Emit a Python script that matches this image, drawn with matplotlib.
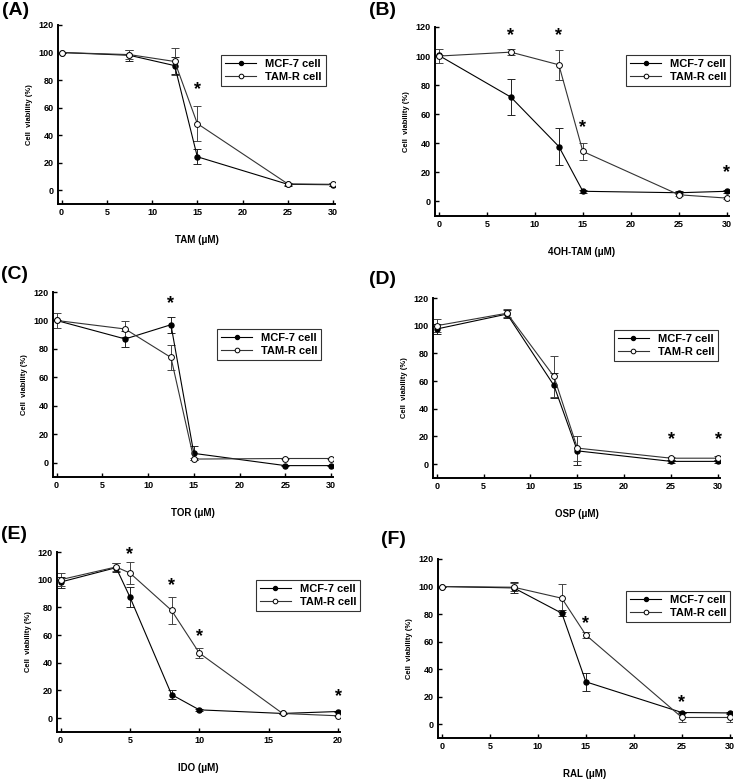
import numpy as np
import matplotlib.pyplot as plt

plt.rcParams['font.family'] = ['Liberation Sans', 'DejaVu Sans']
plt.rcParams['font.weight'] = 'bold'

W, H = 735, 780

# ---- data ----
dose_30 = [0, 7.5, 12.5, 15, 25, 30]
dose_ido = [0, 4, 5, 8, 10, 16, 20]

tam_mcf = [100, 98, 90.5, 24.3, 4.3, 4]
tam_mcf_err = [0, 4, 6, 5.5, 1, 1]
tam_res = [100, 98.5, 93.5, 48.4, 4.6, 4.3]
tam_res_err = [0, 3.5, 10, 12.5, 1, 1]
tam_star_x = [15]
tam_star_y = [73]

oht_mcf = [100.5, 71.8, 37.8, 7, 6, 7]
oht_mcf_err = [0, 12.5, 13, 1, 1, 1]
oht_res = [100, 102.7, 94, 34.4, 4.6, 2.3]
oht_res_err = [5, 2, 10.5, 6, 1, 0.5]
oht_star_x = [7.5, 12.5, 15, 30]
oht_star_y = [114, 114, 51, 20]

tor_mcf = [100, 87, 97, 6.6, -2, -2]
tor_mcf_err = [0, 5.7, 5.5, 5, 0.5, 0.5]
tor_res = [100, 94, 74, 2.6, 3, 3]
tor_res_err = [5, 5.5, 9, 1, 0.5, 0.5]
tor_star_x = [12.5]
tor_star_y = [112]

osp_mcf = [97.6, 108.4, 56.9, 9.6, 2, 2]
osp_mcf_err = [3.5, 3, 9, 10.5, 1, 1]
osp_res = [100, 109, 63.4, 11.6, 4.3, 4.3]
osp_res_err = [4.5, 3, 15, 9, 1, 1.5]
osp_star_x = [25, 30]
osp_star_y = [17.6, 17.6]

ido_mcf = [98.3, 108.7, 87.4, 17, 6, 3.4, 4.8]
ido_mcf_err = [4, 3.5, 7, 3.3, 0.5, 0.5, 0.5]
ido_res = [100, 109.2, 104.8, 77.8, 47, 3.4, 1.7]
ido_res_err = [4.8, 3, 7.7, 9.6, 3.5, 0.5, 0.5]
ido_star_x = [5, 8, 10, 20]
ido_star_y = [118, 96, 59, 15.5]

ral_mcf = [100, 99, 80.6, 30.8, 8.5, 8.2]
ral_mcf_err = [0, 4, 2, 6.7, 0.5, 0.5]
ral_res = [100, 99.5, 91.5, 64.8, 4.9, 4.9]
ral_res_err = [0, 3, 10, 2, 3, 3]
ral_star_x = [15, 25]
ral_star_y = [73, 16]

fig = plt.figure(figsize=(W / 100, H / 100), dpi=100)


def make_axes(l, r, t, b):
    return fig.add_axes([l / W, 1 - b / H, (r - l) / W, (b - t) / H])


def panel(ax, x, mcf, mcf_err, res, res_err, sx, sy, xlabel, xticks, xmax, leg_pos, tag, tag_xy):
    # error bars first, then the connected means
    ax.errorbar(x, mcf, yerr=mcf_err, fmt='none', ecolor='#222222', elinewidth=0.7,
                capsize=3, capthick=0.7, zorder=2)
    ax.errorbar(x, res, yerr=res_err, fmt='none', ecolor='#444444', elinewidth=0.7,
                capsize=3, capthick=0.7, zorder=2)
    ax.plot(x, mcf, color='black', lw=0.8, marker='o', ms=3.6, mfc='black', mec='black',
            label='MCF-7 cell', zorder=3)
    ax.plot(x, res, color='#333333', lw=0.8, marker='o', ms=4.2, mfc='white', mec='black',
            mew=0.7, label='TAM-R cell', zorder=4)
    for a, b in zip(sx, sy):
        ax.text(a, b, '*', fontsize=13, fontweight='bold', ha='center', va='center', clip_on=False)

    ax.set_xlim(-0.013 * xmax, xmax * 1.007)
    ax.set_ylim(-10, 120)
    ax.set_xticks(xticks)
    ax.set_yticks(range(0, 121, 20))
    for s in ['top', 'right']:
        ax.spines[s].set_visible(False)
    for s in ['left', 'bottom']:
        ax.spines[s].set_linewidth(1.4)
    ax.tick_params(direction='in', length=3, width=1, labelsize=6.5, pad=3)
    for lab in ax.get_xticklabels() + ax.get_yticklabels():
        lab.set_fontweight('bold')
    ax.set_xlabel(xlabel, fontsize=7, fontweight='bold', labelpad=13)
    ax.set_ylabel('Cell  viability (%)', fontsize=5.5, fontweight='bold', labelpad=4)

    leg = ax.legend(loc='upper left', bbox_to_anchor=leg_pos, fontsize=8, frameon=True,
                    fancybox=False, edgecolor='black', handlelength=2.8, borderpad=0.35,
                    labelspacing=0.25, handletextpad=0.8, borderaxespad=0, markerscale=0.8)
    leg.get_frame().set_linewidth(0.8)
    for t in leg.get_texts():
        t.set_fontweight('bold')

    fig.text(tag_xy[0] / W, 1 - tag_xy[1] / H, tag, fontsize=14, fontweight='bold',
             ha='left', va='top')


ticks30 = [0, 5, 10, 15, 20, 25, 30]
ticks20 = [0, 5, 10, 15, 20]

axA = make_axes(58, 335, 25, 204)
panel(axA, dose_30, tam_mcf, tam_mcf_err, tam_res, tam_res_err, tam_star_x, tam_star_y,
      'TAM (μM)', ticks30, 30, (0.59, 0.83), '(A)', (2, 2))

axB = make_axes(435, 729, 27, 216)
panel(axB, dose_30, oht_mcf, oht_mcf_err, oht_res, oht_res_err, oht_star_x, oht_star_y,
      '4OH-TAM (μM)', ticks30, 30, (0.65, 0.85), '(B)', (369, 2))

axC = make_axes(53, 333, 292, 477)
panel(axC, dose_30, tor_mcf, tor_mcf_err, tor_res, tor_res_err, tor_star_x, tor_star_y,
      'TOR (μM)', ticks30, 30, (0.586, 0.80), '(C)', (1, 266))

axD = make_axes(433, 720, 298, 478)
panel(axD, dose_30, osp_mcf, osp_mcf_err, osp_res, osp_res_err, osp_star_x, osp_star_y,
      'OSP (μM)', ticks30, 30, (0.63, 0.822), '(D)', (369, 271))

axE = make_axes(57, 340, 552, 732)
panel(axE, dose_ido, ido_mcf, ido_mcf_err, ido_res, ido_res_err, ido_star_x, ido_star_y,
      'IDO (μM)', ticks20, 20, (0.703, 0.844), '(E)', (1, 526))

axF = make_axes(438, 732, 559, 738)
panel(axF, dose_30, ral_mcf, ral_mcf_err, ral_res, ral_res_err, ral_star_x, ral_star_y,
      'RAL (μM)', ticks30, 30, (0.64, 0.82), '(F)', (381, 531))

fig.savefig('out.png', dpi=100)
